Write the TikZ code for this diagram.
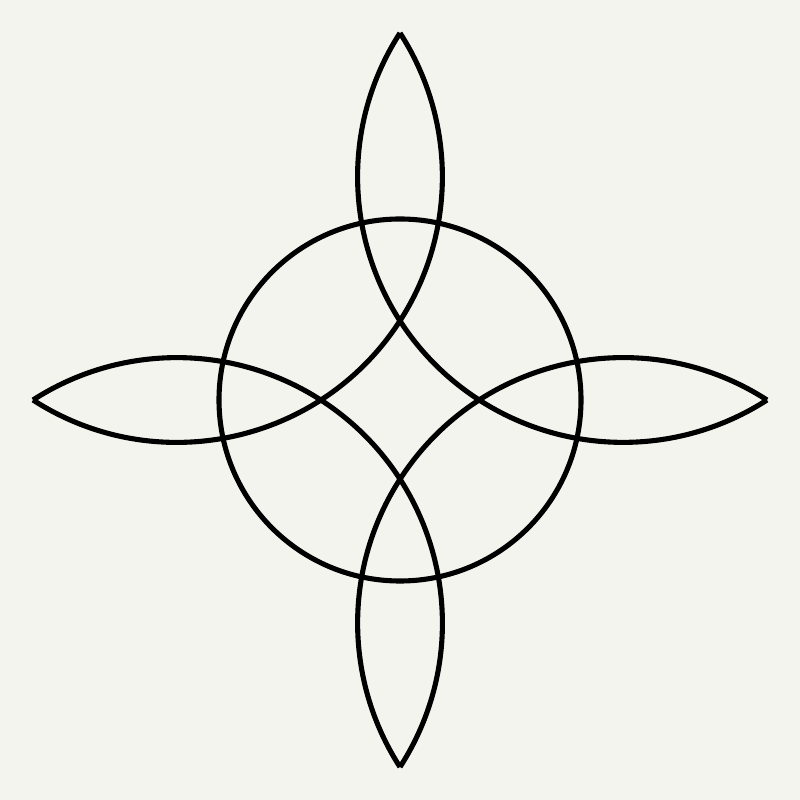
\documentclass[tikz,border=0pt]{standalone}
\usepackage{tikz}
\definecolor{paper}{RGB}{244,244,239}

\begin{document}
\begin{tikzpicture}[line/.style={black, line width=1.45pt, line join=round}]
			\fill[paper] (-4,-4) rectangle (4,4);
			\useasboundingbox (-4,-4) rectangle (4,4);
			% central circle
			\draw[line] (0,0) circle (1.81);
			% four arcs, tip to tip
			\draw[line] (0,3.67) arc[start angle=147.18, end angle=302.82, radius=2.655];
			\draw[line] (-3.67,0) arc[start angle=237.18, end angle=392.82, radius=2.655];
			\draw[line] (0,-3.67) arc[start angle=327.18, end angle=482.82, radius=2.655];
			\draw[line] (3.67,0) arc[start angle=57.18, end angle=212.82, radius=2.655];
		\end{tikzpicture}
\end{document}
